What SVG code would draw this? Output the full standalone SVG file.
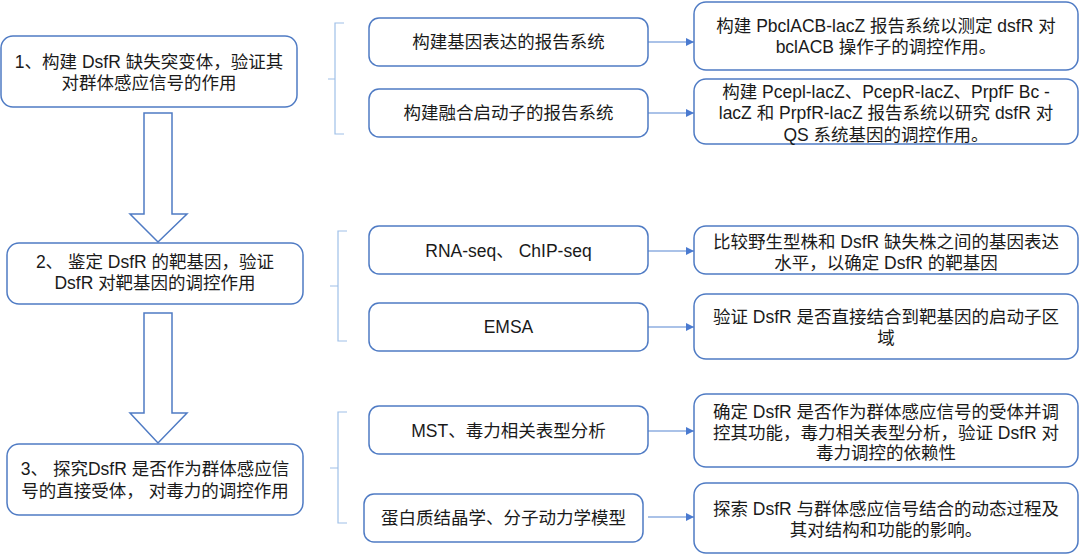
<svg xmlns="http://www.w3.org/2000/svg" width="1080" height="555" viewBox="0 0 1080 555">
<style>
.box{fill:#fff;stroke:#4f7bc4;stroke-width:1.5}
.t{font-family:"Liberation Sans","Noto Sans CJK SC",sans-serif;font-size:17.5px;fill:#1a1a1a;text-anchor:middle}
.con{stroke:#8eaee0;stroke-width:1.3;fill:none}
.br{stroke:#9fc0e8;stroke-width:1.2;fill:none}
.big{fill:#fff;stroke:#4f7bc4;stroke-width:1.5;stroke-linejoin:miter}
</style>
<defs>
<marker id="ah" viewBox="0 0 10 10" refX="10" refY="5" markerWidth="8" markerHeight="8" markerUnits="userSpaceOnUse" orient="auto">
<path d="M0,0 L10,5 L0,10 z" fill="#4a7ad0"/>
</marker>
</defs>
<rect width="1080" height="555" fill="#fff"/>

<g id="connectors">
<path class="big" d="M144,113 H172 V214 H187 L158,242 L130,214 H144 Z"/>
<path class="big" d="M144,313 H172 V413 H187 L158,443 L130,413 H144 Z"/>
<path class="br" d="M344,23 H335 V134 H344 M335,79 H328"/>
<path class="br" d="M347,231 H338 V341 H347 M338,286 H330"/>
<path class="br" d="M347,412 H338 V523 H347 M338,468 H330"/>
<line class="con" x1="648" y1="42" x2="694" y2="42" marker-end="url(#ah)"/>
<line class="con" x1="648" y1="113" x2="694" y2="113" marker-end="url(#ah)"/>
<line class="con" x1="648" y1="251" x2="694" y2="251" marker-end="url(#ah)"/>
<line class="con" x1="648" y1="327" x2="694" y2="327" marker-end="url(#ah)"/>
<line class="con" x1="648" y1="431" x2="694" y2="431" marker-end="url(#ah)"/>
<line class="con" x1="648" y1="517" x2="694" y2="517" marker-end="url(#ah)"/>
</g>

<g id="step1">
<rect class="box" x="1" y="36" width="296" height="71" rx="12"/>
<text class="t" x="149" y="68">1、构建 DsfR 缺失突变体，验证其</text>
<text class="t" x="149" y="89">对群体感应信号的作用</text>
</g>
<g id="step2">
<rect class="box" x="7" y="243" width="296" height="61" rx="12"/>
<text class="t" x="155" y="268">2、 鉴定 DsfR 的靶基因，验证</text>
<text class="t" x="155" y="289">DsfR 对靶基因的调控作用</text>
</g>
<g id="step3">
<rect class="box" x="7" y="444" width="296" height="71" rx="12"/>
<text class="t" x="155" y="475">3、 探究DsfR 是否作为群体感应信</text>
<text class="t" x="155" y="497">号的直接受体， 对毒力的调控作用</text>
</g>

<g id="m1">
<rect class="box" x="369" y="18" width="279" height="48" rx="10"/>
<text class="t" x="508.5" y="48">构建基因表达的报告系统</text>
</g>
<g id="m2">
<rect class="box" x="369" y="89" width="279" height="48" rx="10"/>
<text class="t" x="508.5" y="119">构建融合启动子的报告系统</text>
</g>
<g id="m3">
<rect class="box" x="369" y="226" width="279" height="48" rx="10"/>
<text class="t" x="508.5" y="257">RNA-seq、 ChIP-seq</text>
</g>
<g id="m4">
<rect class="box" x="369" y="303" width="279" height="48" rx="10"/>
<text class="t" x="508.5" y="333">EMSA</text>
</g>
<g id="m5">
<rect class="box" x="369" y="406" width="279" height="48" rx="10"/>
<text class="t" x="508.5" y="437">MST、毒力相关表型分析</text>
</g>
<g id="m6">
<rect class="box" x="364" y="494" width="279" height="48" rx="10"/>
<text class="t" x="503.5" y="524">蛋白质结晶学、分子动力学模型</text>
</g>

<g id="r1">
<rect class="box" x="694" y="2" width="384" height="68" rx="12"/>
<text class="t" x="886" y="32">构建 PbclACB-lacZ 报告系统以测定 dsfR 对</text>
<text class="t" x="886" y="53">bclACB 操作子的调控作用。</text>
</g>
<g id="r2">
<rect class="box" x="694" y="79" width="384" height="65" rx="12"/>
<text class="t" x="886" y="98">构建 Pcepl-lacZ、PcepR-lacZ、PrpfF Bc -</text>
<text class="t" x="886" y="119">lacZ 和 PrpfR-lacZ 报告系统以研究 dsfR 对</text>
<text class="t" x="886" y="141">QS 系统基因的调控作用。</text>
</g>
<g id="r3">
<rect class="box" x="694" y="226" width="384" height="48" rx="12"/>
<text class="t" x="886" y="248">比较野生型株和 DsfR 缺失株之间的基因表达</text>
<text class="t" x="886" y="269">水平，以确定 DsfR 的靶基因</text>
</g>
<g id="r4">
<rect class="box" x="694" y="294" width="384" height="65" rx="12"/>
<text class="t" x="886" y="323">验证 DsfR 是否直接结合到靶基因的启动子区</text>
<text class="t" x="886" y="344">域</text>
</g>
<g id="r5">
<rect class="box" x="694" y="394" width="384" height="73" rx="12"/>
<text class="t" x="886" y="418">确定 DsfR 是否作为群体感应信号的受体并调</text>
<text class="t" x="886" y="439">控其功能，毒力相关表型分析，验证 DsfR 对</text>
<text class="t" x="886" y="459">毒力调控的依赖性</text>
</g>
<g id="r6">
<rect class="box" x="694" y="483" width="384" height="70" rx="12"/>
<text class="t" x="886" y="515">探索 DsfR 与群体感应信号结合的动态过程及</text>
<text class="t" x="886" y="536">其对结构和功能的影响。</text>
</g>
</svg>
